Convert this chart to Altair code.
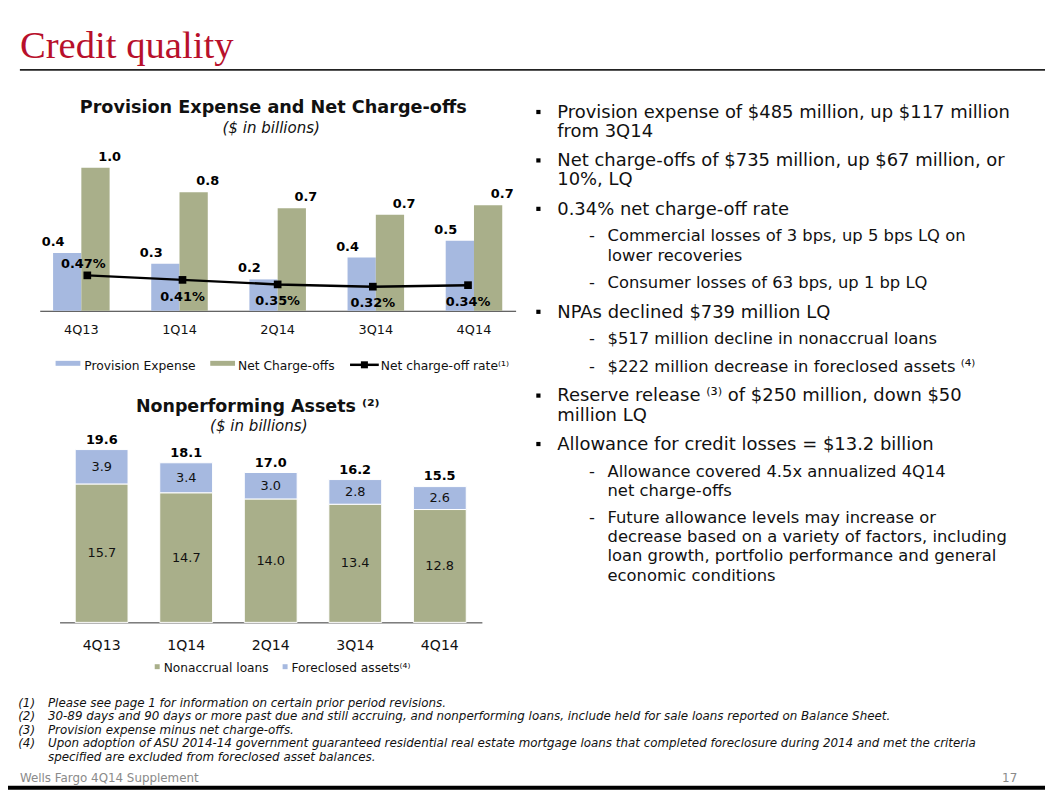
import altair as alt
import pandas as pd

# ---------------- data ----------------
quarters = ["4Q13", "1Q14", "2Q14", "3Q14", "4Q14"]

bar_series = ["Provision Expense", "Net Charge-offs"]
provision_expense = [0.40, 0.325, 0.217, 0.368, 0.485]
net_charge_offs = [0.99, 0.82, 0.71, 0.665, 0.73]
rate_series = "Net charge-off rate\u207d\u00b9\u207e"
net_charge_off_rate = [0.47, 0.41, 0.35, 0.32, 0.34]

npa_series = ["Nonaccrual loans", "Foreclosed assets"]
nonaccrual_loans = [15.7, 14.7, 14.0, 13.4, 12.8]
foreclosed_assets = [3.9, 3.4, 3.0, 2.8, 2.6]
npa_total = [19.6, 18.1, 17.0, 16.2, 15.5]

slide_title = "Credit quality"
chart1_title = "Provision Expense and Net Charge-offs"
chart2_title = "Nonperforming Assets \u207d\u00b2\u207e"
unit_note = "($ in billions)"

bullets = [
    ("main", ["Provision expense of $485 million, up $117 million", "from 3Q14"]),
    ("main", ["Net charge-offs of $735 million, up $67 million, or", "10%, LQ"]),
    ("main", ["0.34% net charge-off rate"]),
    ("sub", ["Commercial losses of 3 bps, up 5 bps LQ on", "lower recoveries"]),
    ("sub", ["Consumer losses of 63 bps, up 1 bp LQ"]),
    ("main", ["NPAs declined $739 million LQ"]),
    ("sub", ["$517 million decline in nonaccrual loans"]),
    ("sub", ["$222 million decrease in foreclosed assets \u207d\u2074\u207e"]),
    ("main", ["Reserve release \u207d\u00b3\u207e of $250 million, down $50", "million LQ"]),
    ("main", ["Allowance for credit losses = $13.2 billion"]),
    ("sub", ["Allowance covered 4.5x annualized 4Q14", "net charge-offs"]),
    ("sub", ["Future allowance levels may increase or",
             "decrease based on a variety of factors, including",
             "loan growth, portfolio performance and general",
             "economic conditions"]),
]

footnote_nums = ["(1)", "(2)", "(3)", "(4)", ""]
footnote_lines = [
    "Please see page 1 for information on certain prior period revisions.",
    "30-89 days and 90 days or more past due and still accruing, and nonperforming loans, include held for sale loans reported on Balance Sheet.",
    "Provision expense minus net charge-offs.",
    "Upon adoption of ASU 2014-14 government guaranteed residential real estate mortgage loans that completed foreclosure during 2014 and met the criteria",
    "specified are excluded from foreclosed asset balances.",
]
footer_left = "Wells Fargo 4Q14 Supplement"
footer_right = "17"

# ---------------- styles / layout ----------------
FONT = "DejaVu Sans"
RED = "#B8102B"
BLUE = "#A6B9E0"
OLIVE = "#A9AF8A"
INK = "#111111"
W, H = 1046, 785          # whole slide (view) size; page offset is 8px

# chart 1 geometry (view pixels)
C1_X = [32, 512]
C1_BASE = 302.0
C1_PX = 145.8      # px per $bn
C1_PR = 76.0       # px per percentage point
# chart 2 geometry
C2_X = [52, 478]
C2_BASE = 616.3
C2_PX = 8.893      # px per $bn


def txt(text, x, y, size, weight="normal", style="normal", align="left",
        color=INK, font=FONT, baseline="alphabetic"):
    return alt.Chart(pd.DataFrame({"t": [text]})).mark_text(
        align=align, baseline=baseline, font=font, fontSize=size,
        fontWeight=weight, fontStyle=style, color=color
    ).encode(text="t:N", x=alt.value(x), y=alt.value(y))


def box(x, x2, y, y2, color):
    return alt.Chart(pd.DataFrame({"a": [0]})).mark_rect(color=color).encode(
        x=alt.value(x), x2=alt.value(x2), y=alt.value(y), y2=alt.value(y2))


def hrule(x, x2, y, color, width):
    return alt.Chart(pd.DataFrame({"a": [0]})).mark_rule(color=color, strokeWidth=width).encode(
        x=alt.value(x), x2=alt.value(x2), y=alt.value(y))


def square(x, y, size, color="black"):
    return alt.Chart(pd.DataFrame({"a": [0]})).mark_point(
        shape="square", filled=True, size=size, color=color, opacity=1
    ).encode(x=alt.value(x), y=alt.value(y))


layers = []

# ---------------- header ----------------
layers += [
    txt(slide_title, 12, 47, 39, font="Liberation Serif", color=RED),
    hrule(12, W, 59, "#222222", 2),
]

# ---------------- chart 1: provision & NCOs ----------------
bars_df = pd.DataFrame({
    "quarter": quarters * 2,
    "series": [bar_series[0]] * 5 + [bar_series[1]] * 5,
    "value": provision_expense + net_charge_offs,
})
rate_df = pd.DataFrame({"quarter": quarters, "rate": net_charge_off_rate})

x1_scale = alt.Scale(domain=quarters, range=C1_X, paddingInner=0.424, paddingOuter=0.136)
x1_axis = alt.Axis(title=None, orient="bottom", offset=C1_BASE - H, labelAngle=0,
                   ticks=False, tickSize=0, domainColor="#333333", domainWidth=1,
                   labelFont=FONT, labelFontSize=13, labelColor=INK,
                   labelBaseline="alphabetic", labelPadding=23, grid=False)
x1 = alt.X("quarter:N", sort=quarters, scale=x1_scale, axis=x1_axis)
x1n = alt.X("quarter:N", sort=quarters, scale=x1_scale, axis=None)
xo1 = alt.XOffset("series:N", sort=bar_series, scale=alt.Scale(paddingInner=0, paddingOuter=0))
yb1 = alt.Y("value:Q", scale=alt.Scale(domain=[0, 1], range=[C1_BASE, C1_BASE - C1_PX], nice=False, zero=True), axis=None)
yr1 = alt.Y("rate:Q", scale=alt.Scale(domain=[0, 1], range=[C1_BASE, C1_BASE - C1_PR], nice=False, zero=True), axis=None)

layers.append(alt.Chart(bars_df).mark_bar().encode(
    x=x1, xOffset=xo1, y=yb1,
    color=alt.Color("series:N", scale=alt.Scale(domain=bar_series, range=[BLUE, OLIVE]), legend=None)))
layers.append(alt.Chart(bars_df).mark_text(
    font=FONT, fontSize=13, fontWeight="bold", baseline="alphabetic", dy=-7, color="black"
).encode(x=x1n, xOffset=xo1, y=yb1, text=alt.Text("value:Q", format=".1f")))

rate_base = alt.Chart(rate_df).transform_calculate(label="format(datum.rate, '.2f') + '%'")
layers.append(rate_base.mark_line(color="black", strokeWidth=2.5).encode(x=x1n, y=yr1))
layers.append(rate_base.mark_point(shape="square", filled=True, size=60, color="black",
                                   opacity=1).encode(x=x1n, y=yr1))
layers.append(rate_base.transform_filter(alt.datum.quarter == quarters[0]).mark_text(
    font=FONT, fontSize=13, fontWeight="bold", baseline="middle", dy=-11, dx=-4, color="black"
).encode(x=x1n, y=yr1, text="label:N"))
layers.append(rate_base.transform_filter(alt.datum.quarter != quarters[0]).mark_text(
    font=FONT, fontSize=13, fontWeight="bold", baseline="middle", dy=17, color="black"
).encode(x=x1n, y=yr1, text="label:N"))

# legend 1 and titles
layers += [
    box(48, 73, 352.5, 357.5, BLUE),
    txt(bar_series[0], 77, 361.3, 12.4),
    box(204, 229, 352.5, 357.5, OLIVE),
    txt(bar_series[1], 232, 361.3, 12.4),
    hrule(345, 374, 356.5, "black", 2.5),
    square(359.5, 356.5, 50),
    txt(rate_series, 376, 361.3, 12.4),
    txt(chart1_title, 267.5, 103, 17.8, weight="bold", align="center"),
    txt(unit_note, 265.5, 123, 15.2, style="italic", align="center"),
]

# ---------------- chart 2: nonperforming assets ----------------
npa_df = pd.DataFrame({
    "quarter": quarters * 2,
    "series": [npa_series[0]] * 5 + [npa_series[1]] * 5,
    "value": nonaccrual_loans + foreclosed_assets,
    "order": [0] * 5 + [1] * 5,
    "mid": [v / 2 for v in nonaccrual_loans]
           + [n + f / 2 for n, f in zip(nonaccrual_loans, foreclosed_assets)],
})
tot_df = pd.DataFrame({"quarter": quarters, "total": npa_total})

x2_scale = alt.Scale(domain=quarters, range=C2_X, paddingInner=0.375, paddingOuter=0.185)
x2_axis = alt.Axis(title=None, orient="bottom", offset=C2_BASE - H, labelAngle=0,
                   ticks=False, tickSize=0, domainColor="#333333", domainWidth=1,
                   labelFont=FONT, labelFontSize=14.2, labelColor=INK,
                   labelBaseline="alphabetic", labelPadding=27, grid=False)
x2 = alt.X("quarter:N", sort=quarters, scale=x2_scale, axis=x2_axis)
x2n = alt.X("quarter:N", sort=quarters, scale=x2_scale, axis=None)
y2_scale = alt.Scale(domain=[0, 10], range=[C2_BASE, C2_BASE - 10 * C2_PX], nice=False, zero=True)

layers.append(alt.Chart(npa_df).mark_bar(stroke="white", strokeWidth=1).encode(
    x=x2,
    y=alt.Y("value:Q", stack="zero", scale=y2_scale, axis=None),
    order=alt.Order("order:Q"),
    color=alt.Color("series:N", scale=alt.Scale(domain=npa_series, range=[OLIVE, BLUE]), legend=None)))
layers.append(alt.Chart(npa_df).mark_text(
    font=FONT, fontSize=13, baseline="middle", color=INK
).encode(x=x2n, y=alt.Y("mid:Q", scale=y2_scale, axis=None), text=alt.Text("value:Q", format=".1f")))
layers.append(alt.Chart(tot_df).mark_text(
    font=FONT, fontSize=13, fontWeight="bold", baseline="alphabetic", dy=-6, color="black"
).encode(x=x2n, y=alt.Y("total:Q", scale=y2_scale, axis=None), text=alt.Text("total:Q", format=".1f")))

layers += [
    box(148, 153, 658.5, 663.5, OLIVE),
    txt(npa_series[0], 157, 666.5, 12.3),
    box(277, 282, 658.5, 663.5, BLUE),
    txt(npa_series[1] + "\u207d\u2074\u207e", 286, 666.5, 12.3),
    txt(chart2_title, 129, 403.7, 17.6, weight="bold"),
    txt(unit_note, 253, 423, 15.2, style="italic", align="center"),
]

# ---------------- right column: bullets ----------------
MAIN_FS, SUB_FS = 18.1, 16.5
y = 109.5 - 8.0
first = True
for level, lines in bullets:
    if not first:
        y += 29.5 if level == "main" else 27.5
    first = False
    fs = MAIN_FS if level == "main" else SUB_FS
    if level == "main":
        layers.append(square(535, y, 18))
        tx = 554
    else:
        layers.append(txt("-", 586, y + 0.32 * fs, fs))
        tx = 604.7
    for i, line in enumerate(lines):
        if i > 0:
            y += 19.35
        layers.append(txt(line, tx, y + 0.32 * fs, fs))

# ---------------- footer ----------------
for i, (num, line) in enumerate(zip(footnote_nums, footnote_lines)):
    by = [701.5, 715.0, 729.0, 742.5, 756.0][i]
    if num:
        layers.append(txt(num, 10.3, by, 12.0, style="italic"))
    layers.append(txt(line, 40.3, by, 12.0, style="italic"))
layers += [
    txt(footer_left, 12, 777.0, 12, color="#8A8A8A"),
    txt(footer_right, 1018, 777.0, 12, color="#8A8A8A", align="right"),
    box(0, W, 781, 785, "black"),
]

# ---------------- assemble ----------------
chart = alt.layer(*layers).resolve_scale(
    x="independent", y="independent", xOffset="independent", color="independent"
).properties(width=W, height=H, padding=0, background="white").configure_view(stroke=None)

chart.save("out.html", embed_options={"renderer": "svg", "actions": False})
